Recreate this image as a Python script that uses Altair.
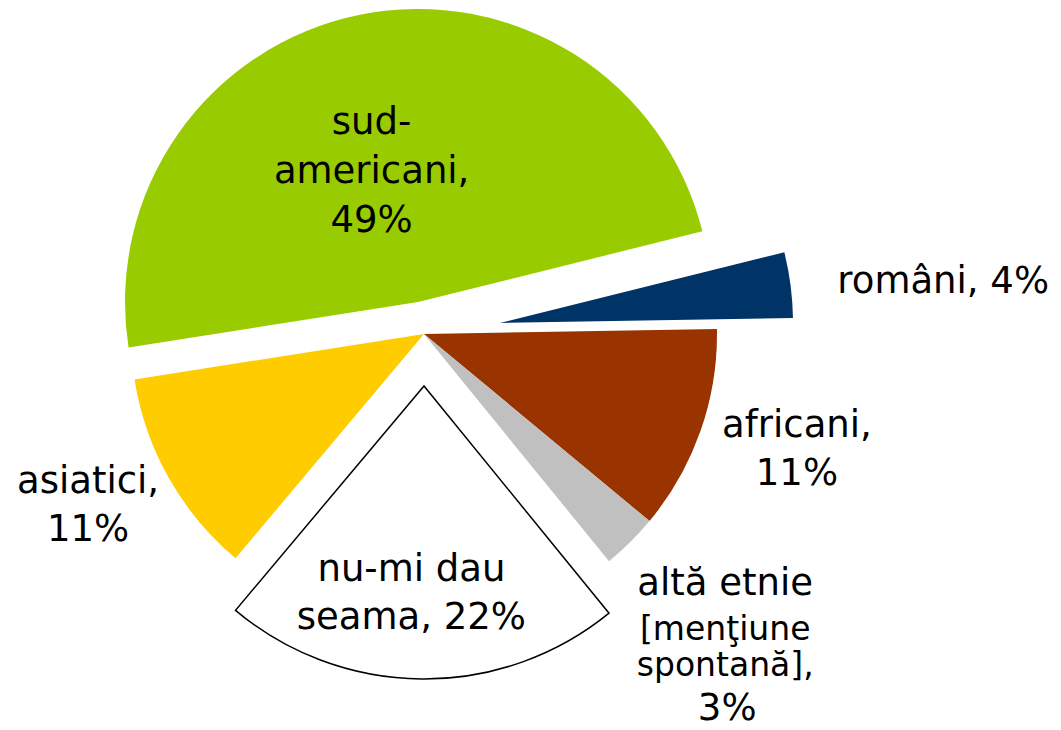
import math
import altair as alt
import pandas as pd

# ---- data ----
categories = ["africani", "altă etnie", "nu-mi dau seama", "asiatici", "sud-americani", "români"]
values = [11.3, 3.1, 22.0, 11.4, 48.6, 3.6]
labels = ["africani,\n11%", "altă etnie", "nu-mi dau\nseama, 22%", "asiatici,\n11%",
          "sud-\namericani,\n49%", "români, 4%"]
other_label_parts = ["altă etnie", ["[menţiune", "spontană],"], "3%"]
colors = ["#993300", "#C0C0C0", "#FFFFFF", "#FFCC00", "#99CC00", "#003366"]

df = pd.DataFrame({"idx": list(range(len(categories))), "cat": categories,
                   "value": values, "label": labels})

# ---- layout / style ----
W, H = 1045, 714
CX, CY = 416, 326          # pie centre
R = 293                    # pie radius
START = math.radians(89)   # first slice starts just above "east"
total = sum(values)
FONT = "DejaVu Sans"

theta_scale = alt.Scale(domain=[0, total], range=[START, START + 2 * math.pi])
color_scale = alt.Scale(domain=categories, range=colors)

explode = {"sud-americani": (-6, -32), "români": (76, -11), "nu-mi dau seama": (0, 52)}


def arc_layer(cats, dx=0, dy=0, **kw):
    return alt.Chart().transform_filter(
        alt.FieldOneOfPredicate(field="cat", oneOf=cats)
    ).mark_arc(radius=R, **kw).encode(
        theta=alt.Theta("start:Q", stack=None, scale=theta_scale),
        theta2="cum:Q",
        color=alt.Color("cat:N", scale=color_scale, legend=None),
        x=alt.value(CX + dx), y=alt.value(CY + dy),
    )


def text_layer(cat, radius, tdx, tdy, text=None, size=37, lh=48):
    ox, oy = explode.get(cat, (0, 0))
    enc = dict(
        theta=alt.Theta("mid:Q", stack=None, scale=theta_scale),
        x=alt.value(CX + ox), y=alt.value(CY + oy),
        text=alt.Text("label:N") if text is None else alt.value(text),
    )
    return alt.Chart().transform_filter(alt.datum.cat == cat).mark_text(
        radius=radius, dx=tdx, dy=tdy, font=FONT, fontSize=size,
        lineBreak="\n", lineHeight=lh, align="center", baseline="middle", color="black"
    ).encode(**enc)


layers = [
    arc_layer(["africani", "altă etnie", "asiatici"]),
    arc_layer(["sud-americani"], *explode["sud-americani"]),
    arc_layer(["români"], *explode["români"]),
    arc_layer(["nu-mi dau seama"], *explode["nu-mi dau seama"], stroke="black", strokeWidth=1.5),
    text_layer("sud-americani", 138, -19, -44, lh=49),
    text_layer("români", 445, 2, 17),
    text_layer("africani", 391, 4, -37),
    text_layer("asiatici", 380, -5, -39),
    text_layer("nu-mi dau seama", 208, -11, -24),
    text_layer("altă etnie", 435, -5, -59, text=other_label_parts[0]),
    text_layer("altă etnie", 435, -5, -13, text=other_label_parts[1], size=33, lh=36),
    text_layer("altă etnie", 435, -3, 66, text=other_label_parts[2]),
]

chart = alt.layer(*layers, data=df).transform_window(
    cum="sum(value)", frame=[None, 0], sort=[alt.SortField("idx", order="ascending")]
).transform_calculate(
    start="datum.cum - datum.value", mid="datum.cum - datum.value / 2"
).properties(
    width=W, height=H, autosize=alt.AutoSizeParams(type="none"), padding=0
).configure_view(stroke=None)

chart.save("out.html", embed_options={"renderer": "svg", "actions": False})
